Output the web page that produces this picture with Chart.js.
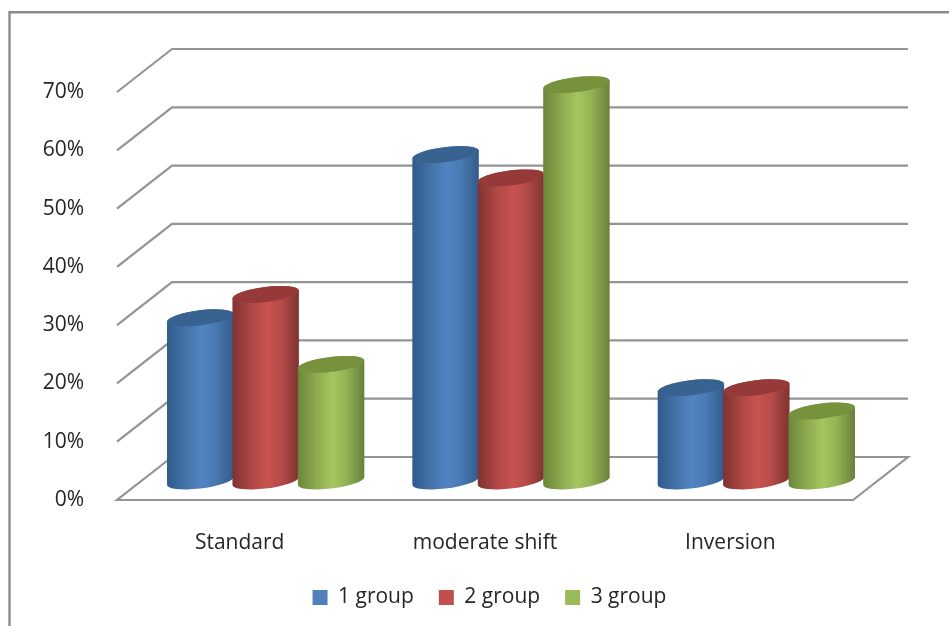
<!DOCTYPE html>
<html>
<head>
<meta charset="utf-8">
<title>Groups by shift type</title>
<script src="https://cdn.jsdelivr.net/npm/chart.js@4"></script>
<style>
  html, body { margin: 0; padding: 0; background: #fff; }
  canvas { display: block; }
</style>
</head>
<body>
<canvas id="chart" width="949" height="626"></canvas>
<script>
const categories = ['Standard', 'moderate shift', 'Inversion'];
const group1 = [28, 56, 16];
const group2 = [32, 52, 16];
const group3 = [20, 68, 12];
const seriesNames = ['1 group', '2 group', '3 group'];
const seriesColors = ['#4f81bd', '#c0504d', '#9bbb59'];
const sideShades = [
  ['#2f5a8a', '#4675ab', '#5084c2', '#4a7ab4', '#315b8a'],
  ['#7f3230', '#b04946', '#c9524f', '#b74c49', '#7e3230'],
  ['#6b8537', '#8fad51', '#a3c75f', '#94b355', '#66803a']
];
const capColors = ['#38628f', '#953a38', '#76923c'];
const tickStep = 10;
const axisMax = 70;

// Projection of the 3D box: how far the back wall sits from the front plane.
const wallDX = 55, wallDY = -43;
// Where the cylinders stand inside that box.
const barDX = 26, barDY = -19;
const capMinor = 7.5, capTilt = -7 * Math.PI / 180;
const lineColor = '#949494';
const textColor = '#262626';
const fontFamily = '"Open Sans", sans-serif';

function drawCylinder(ctx, bar, index) {
  const cx = bar.x + barDX;
  const topY = bar.y + barDY;
  const baseY = bar.base + barDY;
  const a = bar.width / 2 / Math.cos(capTilt) + 0.5;
  const b = capMinor;
  const t0 = Math.atan(-(b / a) * Math.tan(capTilt));
  const g = ctx.createLinearGradient(cx - a, 0, cx + a, 0);
  const shades = sideShades[index];
  [0, 0.3, 0.52, 0.72, 1].forEach((s, i) => g.addColorStop(s, shades[i]));

  ctx.beginPath();
  ctx.ellipse(cx, baseY, a, b, capTilt, t0, t0 + Math.PI);
  ctx.ellipse(cx, topY, a, b, capTilt, t0 + Math.PI, t0 + 2 * Math.PI);
  ctx.closePath();
  ctx.fillStyle = g;
  ctx.fill();

  ctx.beginPath();
  ctx.ellipse(cx, topY, a, b, capTilt, 0, 2 * Math.PI);
  ctx.fillStyle = capColors[index];
  ctx.fill();
}

const box3d = {
  id: 'box3d',
  afterLayout(chart) {
    // The legend is centred under the whole box, not under the front plane.
    chart.legend.left += 47;
    chart.legend.right += 47;
  },
  beforeDraw(chart) {
    const { ctx, width } = chart;
    ctx.save();
    ctx.strokeStyle = '#8c8c8c';
    ctx.lineWidth = 2.4;
    ctx.beginPath();
    ctx.moveTo(9.5, chart.height);
    ctx.lineTo(9.5, 12.2);
    ctx.lineTo(width, 12.2);
    ctx.stroke();
    ctx.restore();
  },
  beforeDatasetsDraw(chart) {
    const { ctx, chartArea: area } = chart;
    const yScale = chart.scales.y;
    ctx.save();
    ctx.strokeStyle = lineColor;
    ctx.lineWidth = 2.2;
    ctx.lineJoin = 'miter';
    yScale.ticks.forEach(tick => {
      const y = yScale.getPixelForValue(tick.value);
      ctx.beginPath();
      if (tick.value === 0) {
        ctx.moveTo(area.left + wallDX, y + wallDY);
        ctx.lineTo(area.left, y);
        ctx.lineTo(area.right, y);
        ctx.lineTo(area.right + wallDX, y + wallDY);
      } else {
        ctx.moveTo(area.left, y);
      }
      ctx.lineTo(area.left + wallDX, y + wallDY);
      ctx.lineTo(area.right + wallDX, y + wallDY);
      ctx.stroke();
    });
    // Cylinders go left to right so each one overlaps its left neighbour.
    categories.forEach((_, c) => {
      seriesNames.forEach((__, s) => {
        drawCylinder(ctx, chart.getDatasetMeta(s).data[c], s);
      });
    });
    ctx.restore();
    return false;
  }
};

new Chart(document.getElementById('chart'), {
  type: 'bar',
  data: {
    labels: categories,
    datasets: [group1, group2, group3].map((values, i) => ({
      label: seriesNames[i],
      data: values,
      backgroundColor: seriesColors[i],
      borderWidth: 0
    }))
  },
  options: {
    responsive: false,
    animation: false,
    events: [],
    categoryPercentage: 0.8,
    barPercentage: 1,
    layout: { padding: { left: 32, right: 96, top: 92, bottom: 8 } },
    scales: {
      x: {
        grid: { display: false },
        border: { display: false },
        afterFit(scale) { scale.height = 62; },
        ticks: {
          padding: 22,
          maxRotation: 0,
          color: textColor,
          font: { family: fontFamily, size: 21 }
        }
      },
      y: {
        min: 0,
        max: axisMax,
        grid: { display: false },
        border: { display: false },
        afterFit(scale) { scale.width = 85; },
        ticks: {
          stepSize: tickStep,
          padding: 25,
          color: textColor,
          font: { family: fontFamily, size: 21 },
          callback: v => v + '%'
        }
      }
    },
    plugins: {
      tooltip: { enabled: false },
      title: { display: false },
      legend: {
        position: 'bottom',
        labels: {
          boxWidth: 15,
          boxHeight: 15,
          padding: 25,
          color: textColor,
          font: { family: fontFamily, size: 21 }
        }
      }
    }
  },
  plugins: [box3d]
});
</script>
</body>
</html>
